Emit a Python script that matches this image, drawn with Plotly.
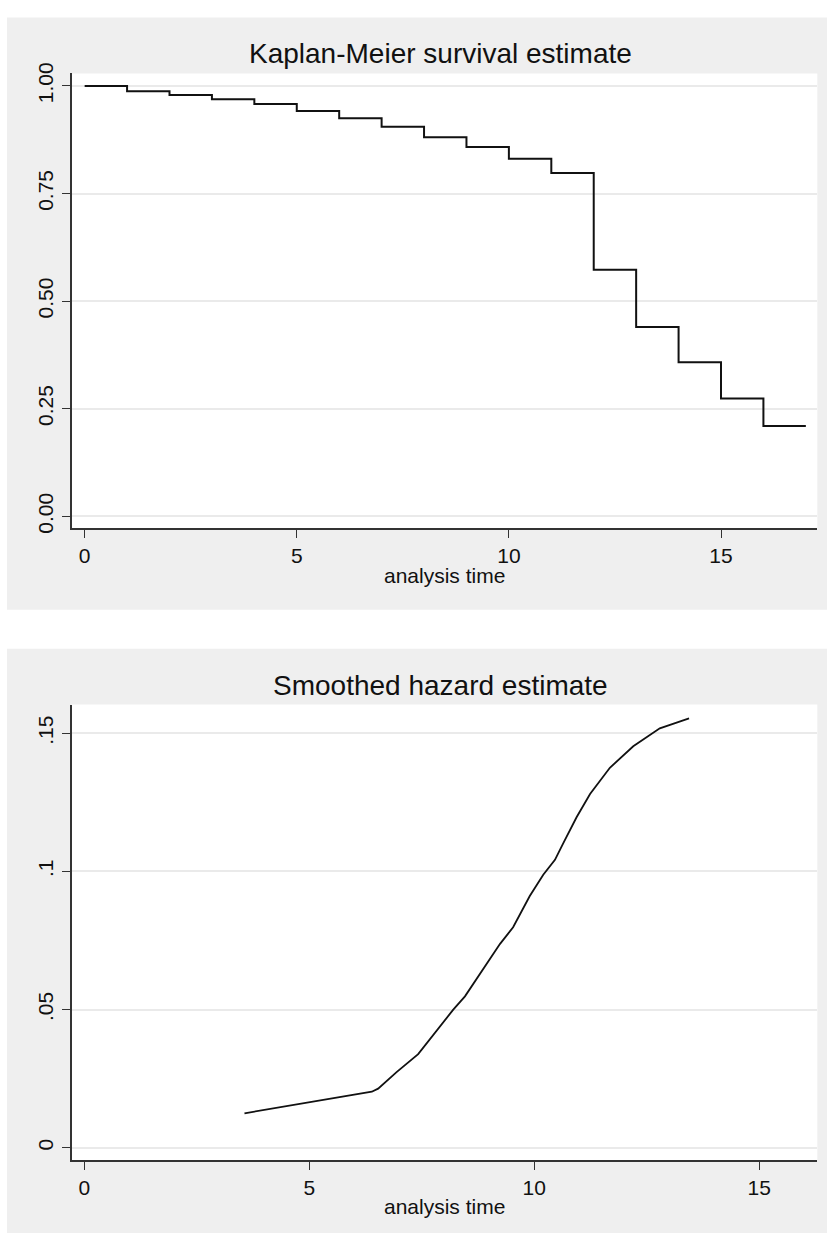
import plotly.graph_objects as go

# Kaplan-Meier survivor function (step values at each analysis time)
km_time = [0, 1, 2, 3, 4, 5, 6, 7, 8, 9, 10, 11, 12, 13, 14, 15, 16, 17]
km_surv = [1.000, 0.988, 0.979, 0.969, 0.958, 0.942, 0.925, 0.905, 0.881,
           0.858, 0.831, 0.798, 0.573, 0.440, 0.358, 0.274, 0.210, 0.210]

# Smoothed hazard estimate
hz_time = [3.56, 4.42, 5.02, 5.53, 6.39, 6.53, 6.94, 7.42, 7.83, 8.20, 8.46,
           8.87, 9.24, 9.53, 9.90, 10.20, 10.46, 10.64, 10.94, 11.24, 11.68,
           12.20, 12.79, 13.44]
hz_value = [0.0125, 0.0149, 0.0167, 0.0179, 0.0203, 0.0214, 0.0274, 0.0339,
            0.0423, 0.0500, 0.0548, 0.0649, 0.0738, 0.0798, 0.0911, 0.0988,
            0.1042, 0.1101, 0.1196, 0.1280, 0.1375, 0.1453, 0.1518, 0.1554]

x_ticks = [0, 5, 10, 15]
km_ticks = [0, 0.25, 0.5, 0.75, 1.0]
km_ticklabels = ["0.00", "0.25", "0.50", "0.75", "1.00"]
hz_ticks = [0, 0.05, 0.1, 0.15]
hz_ticklabels = ["0", ".05", ".1", ".15"]

W, H = 827, 1238
FONT = "Liberation Sans, Arial, sans-serif"
INK = "#111111"
GRID = "#eaeaea"
PANEL = "#efefef"


def px_x(p):
    return p / W


def px_y(p):
    return 1 - p / H


# plot regions in pixels (left, right, top, bottom)
TOP_BOX = (71.5, 817.3, 63.3, 524.0)
BOT_BOX = (71.5, 817.3, 702.6, 1164.3)

fig = go.Figure()

fig.add_trace(go.Scatter(
    x=km_time, y=km_surv, mode="lines", line=dict(color=INK, width=2, shape="hv"),
    xaxis="x", yaxis="y", showlegend=False, hoverinfo="skip"))

fig.add_trace(go.Scatter(
    x=hz_time, y=hz_value, mode="lines", line=dict(color=INK, width=1.8),
    xaxis="x2", yaxis="y2", showlegend=False, hoverinfo="skip"))

xdom = [px_x(TOP_BOX[0]), px_x(TOP_BOX[1])]

common_x = dict(
    tickmode="array", tickvals=x_ticks, ticks="outside", ticklen=8, tickwidth=1.3,
    tickcolor="#333333", showline=True, linecolor="#333333", linewidth=1.5,
    showgrid=False, zeroline=False, tickfont=dict(family=FONT, size=21, color=INK),
    domain=xdom,
)
common_y = dict(
    ticks="outside", ticklen=8, tickwidth=1.3, tickcolor="#333333",
    showline=True, linecolor="#333333", linewidth=1.5, showgrid=True,
    gridcolor=GRID, gridwidth=1.5, zeroline=False, tickangle=-90,
    tickfont=dict(family=FONT, size=21, color=INK), tickmode="array",
)


def panel(x0, x1, y0, y1, color):
    return dict(type="rect", xref="paper", yref="paper", x0=px_x(x0), x1=px_x(x1),
                y0=px_y(y1), y1=px_y(y0), fillcolor=color, line=dict(width=0),
                layer="below")


fig.update_layout(
    width=W, height=H, margin=dict(l=0, r=0, t=0, b=0),
    paper_bgcolor="white", plot_bgcolor="white",
    xaxis=dict(**common_x, range=[-0.31, 17.27], anchor="y"),
    yaxis=dict(**common_y, tickvals=km_ticks, ticktext=km_ticklabels,
               range=[-0.0276, 1.029], domain=[px_y(TOP_BOX[3]), px_y(TOP_BOX[2])],
               anchor="x"),
    xaxis2=dict(**common_x, range=[-0.284, 16.29], anchor="y2"),
    yaxis2=dict(**common_y, tickvals=hz_ticks, ticktext=hz_ticklabels,
                range=[-0.0045, 0.1604], domain=[px_y(BOT_BOX[3]), px_y(BOT_BOX[2])],
                anchor="x2"),
    shapes=[
        panel(7, W, 6.7, 606.7, PANEL),
        panel(7, W, 646, H, PANEL),
        panel(*TOP_BOX, "white"),
        panel(*BOT_BOX, "white"),
    ],
    annotations=[
        dict(text="Kaplan-Meier survival estimate", xref="paper", yref="paper",
             x=px_x(440), y=px_y(43), xanchor="center", yanchor="middle",
             showarrow=False, font=dict(family=FONT, size=28, color=INK)),
        dict(text="analysis time", xref="paper", yref="paper",
             x=px_x(444), y=px_y(572), xanchor="center", yanchor="middle",
             showarrow=False, font=dict(family=FONT, size=21, color=INK)),
        dict(text="Smoothed hazard estimate", xref="paper", yref="paper",
             x=px_x(440), y=px_y(683), xanchor="center", yanchor="middle",
             showarrow=False, font=dict(family=FONT, size=28, color=INK)),
        dict(text="analysis time", xref="paper", yref="paper",
             x=px_x(444), y=px_y(1211), xanchor="center", yanchor="middle",
             showarrow=False, font=dict(family=FONT, size=21, color=INK)),
    ],
)

fig.write_html("out.html")
